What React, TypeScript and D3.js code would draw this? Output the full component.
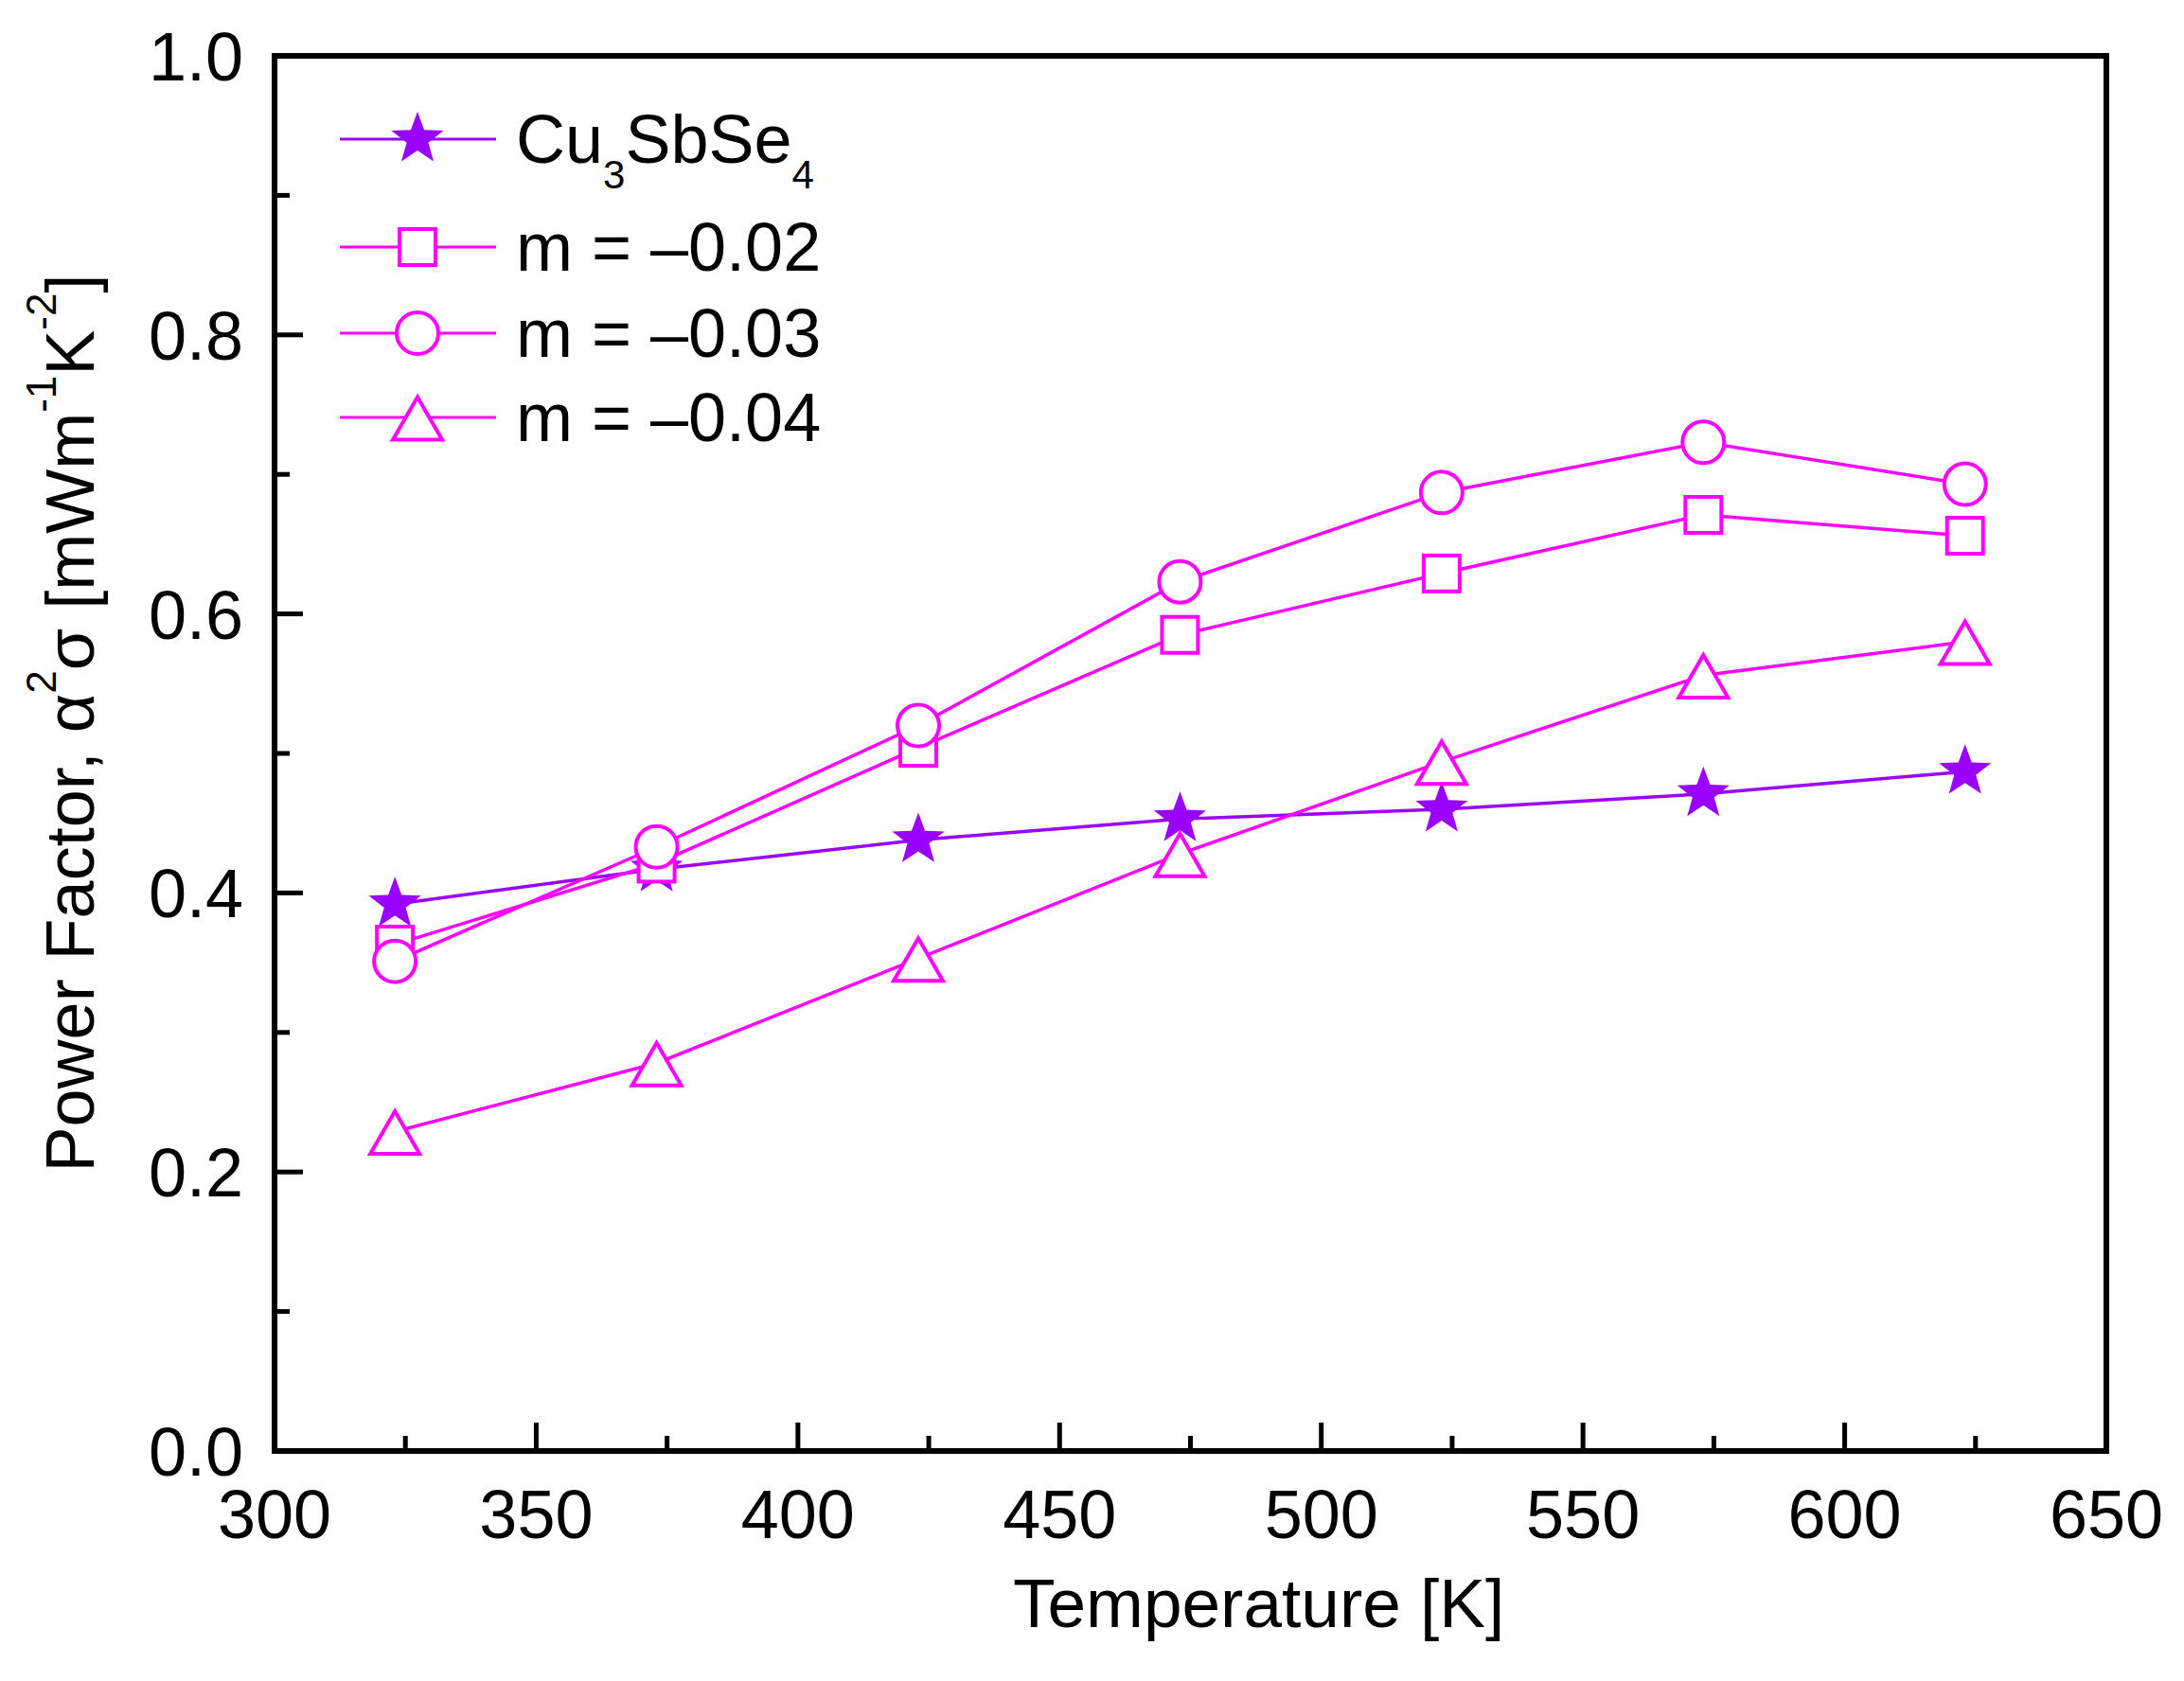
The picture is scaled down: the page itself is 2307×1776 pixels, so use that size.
import React from "react";
import * as d3 from "d3";

// temperatures [K]
const temps = [323, 373, 423, 473, 523, 573, 623];

// power factor [mW m^-1 K^-2]
const pristine = [0.392, 0.417, 0.438, 0.453, 0.46, 0.471, 0.487];
const m002 = [0.363, 0.421, 0.504, 0.585, 0.629, 0.671, 0.656];
const m003 = [0.351, 0.433, 0.52, 0.623, 0.687, 0.723, 0.693];
const m004 = [0.229, 0.278, 0.353, 0.428, 0.494, 0.556, 0.58];

const xTicks = [300, 350, 400, 450, 500, 550, 600, 650];
const xMinor = [325, 375, 425, 475, 525, 575, 625];
const yTicks = [0, 0.2, 0.4, 0.6, 0.8, 1.0];
const yMinor = [0.1, 0.3, 0.5, 0.7, 0.9];

const PURPLE = "#9900ff";
const MAGENTA = "#ff00ff";
const FONT = "'Liberation Sans', Arial, sans-serif";

type Shape = "star" | "square" | "circle" | "triangle";

const series: { name: string; values: number[]; shape: Shape; color: string }[] = [
  { name: "Cu3SbSe4", values: pristine, shape: "star", color: PURPLE },
  { name: "m = \u20130.02", values: m002, shape: "square", color: MAGENTA },
  { name: "m = \u20130.03", values: m003, shape: "circle", color: MAGENTA },
  { name: "m = \u20130.04", values: m004, shape: "triangle", color: MAGENTA },
];

const W = 2307;
const H = 1776;
const left = 290;
const right = 2225;
const top = 59;
const bottom = 1533;

const x = d3.scaleLinear().domain([300, 650]).range([left, right]);
const y = d3.scaleLinear().domain([0, 1]).range([bottom, top]);

function starPath(R: number, r: number) {
  const pts: [number, number][] = [];
  for (let i = 0; i < 10; i++) {
    const a = ((-90 + i * 36) * Math.PI) / 180;
    const rad = i % 2 === 0 ? R : r;
    pts.push([rad * Math.cos(a), rad * Math.sin(a)]);
  }
  return "M" + pts.map((p) => p.join(",")).join("L") + "Z";
}

const Marker = ({ shape, color, cx, cy }: { shape: Shape; color: string; cx: number; cy: number }) => {
  const t = `translate(${cx},${cy})`;
  if (shape === "star")
    return <path d={starPath(29, 12)} transform={t} fill={color} />;
  if (shape === "square")
    return <rect x={cx - 19} y={cy - 19} width={38} height={38} fill="white" stroke={color} strokeWidth={4} />;
  if (shape === "circle")
    return <circle cx={cx} cy={cy} r={22} fill="white" stroke={color} strokeWidth={4} />;
  return (
    <path d="M0,-21.5L26,23.5L-26,23.5Z" transform={t} fill="white" stroke={color} strokeWidth={4} strokeLinejoin="miter" />
  );
};

const line = d3
  .line<number>()
  .x((_, i) => x(temps[i]))
  .y((d) => y(d));

const legendRows = [147, 261, 352, 441];

export default function App() {
  return (
    <svg width={W} height={H} style={{ position: "absolute", left: 0, top: 0, background: "white" }} fontFamily={FONT}>
      <rect width={W} height={H} fill="white" />

      {series.map((s) => (
        <g key={s.name}>
          <path d={line(s.values) || ""} fill="none" stroke={s.color} strokeWidth={3.5} />
          {s.values.map((v, i) => (
            <Marker key={i} shape={s.shape} color={s.color} cx={x(temps[i])} cy={y(v)} />
          ))}
        </g>
      ))}

      {/* frame */}
      <rect x={left} y={top} width={right - left} height={bottom - top} fill="none" stroke="black" strokeWidth={6} />

      {xTicks.map((t) => (
        <g key={"xt" + t}>
          <line x1={x(t)} x2={x(t)} y1={bottom} y2={bottom - 30} stroke="black" strokeWidth={5} />
          <text x={x(t)} y={1625} fontSize={72} textAnchor="middle">
            {t}
          </text>
        </g>
      ))}
      {xMinor.map((t) => (
        <line key={"xm" + t} x1={x(t)} x2={x(t)} y1={bottom} y2={bottom - 16} stroke="black" strokeWidth={5} />
      ))}
      {yTicks.map((t) => (
        <g key={"yt" + t}>
          <line x1={left} x2={left + 30} y1={y(t)} y2={y(t)} stroke="black" strokeWidth={5} />
          <text x={257} y={y(t) + 26} fontSize={72} textAnchor="end">
            {t.toFixed(1)}
          </text>
        </g>
      ))}
      {yMinor.map((t) => (
        <line key={"ym" + t} x1={left} x2={left + 16} y1={y(t)} y2={y(t)} stroke="black" strokeWidth={5} />
      ))}

      <text x={1070} y={1719} fontSize={73}>
        Temperature [K]
      </text>

      <text transform="translate(99,764) rotate(-90)" fontSize={72} textAnchor="middle">
        Power Factor, α
        <tspan fontSize={44} dy={-40}>2</tspan>
        <tspan dy={40}>σ [mWm</tspan>
        <tspan fontSize={44} dy={-40}>-1</tspan>
        <tspan dy={40}>K</tspan>
        <tspan fontSize={44} dy={-40}>-2</tspan>
        <tspan dy={40}>]</tspan>
      </text>

      {/* legend */}
      {series.map((s, i) => {
        const ry = legendRows[i];
        return (
          <g key={"lg" + s.name}>
            <line x1={359} x2={524} y1={ry} y2={ry} stroke={s.color} strokeWidth={3} />
            <Marker shape={s.shape} color={s.color} cx={441} cy={ry} />
            {s.shape === "star" ? (
              <text x={545} y={ry + 25} fontSize={72}>
                Cu
                <tspan fontSize={42} dy={27}>3</tspan>
                <tspan dy={-27}>SbSe</tspan>
                <tspan fontSize={42} dy={27}>4</tspan>
              </text>
            ) : (
              <text x={545} y={ry + 25} fontSize={72}>
                {s.name}
              </text>
            )}
          </g>
        );
      })}
    </svg>
  );
}
